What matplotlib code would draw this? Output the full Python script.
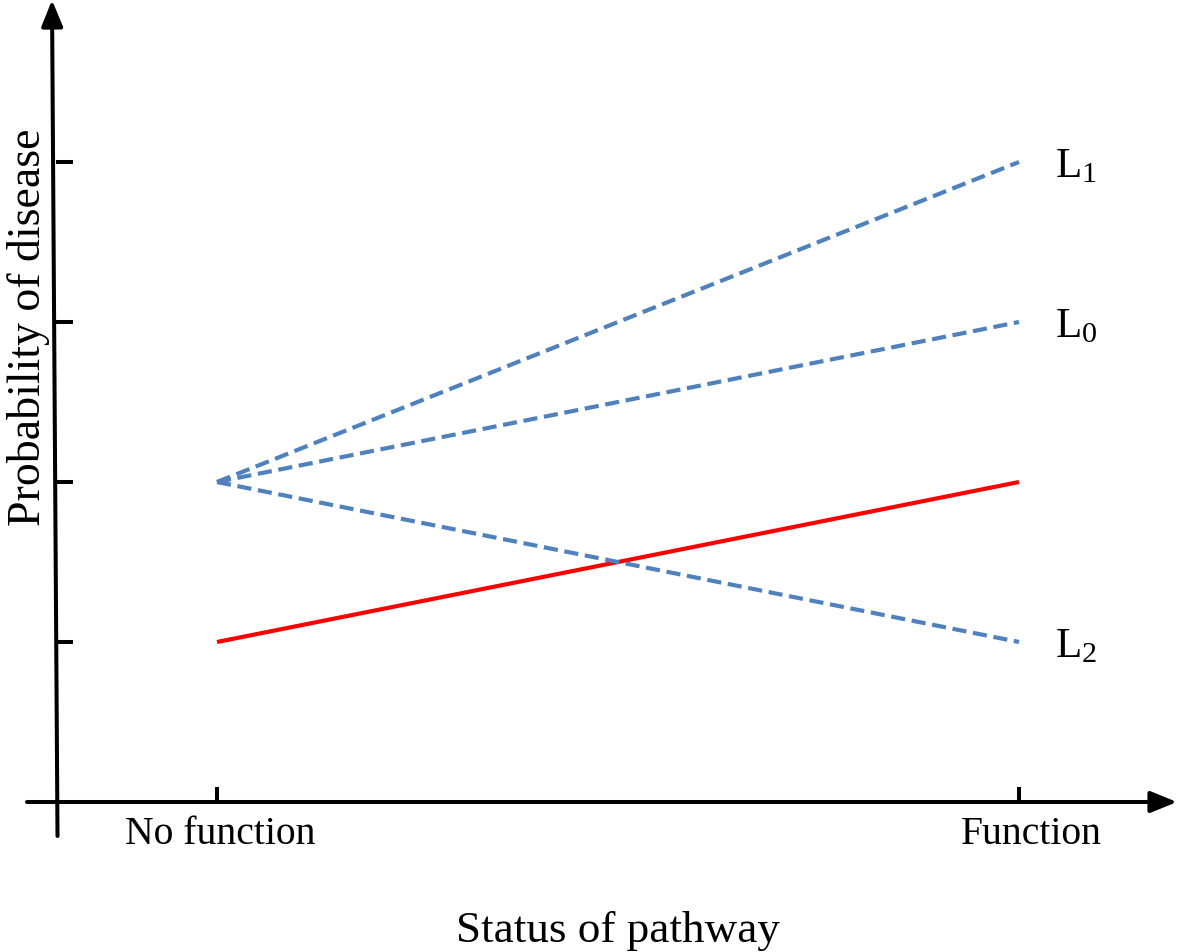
import matplotlib
matplotlib.use("Agg")
import matplotlib.pyplot as plt

# Data
x_status = [0, 1]
x_labels = ["No function", "Function"]
red_line = [1, 2]
L1 = [2, 4]
L0 = [2, 3]
L2 = [2, 1]
dashed_series = [("L$_1$", L1), ("L$_0$", L0), ("L$_2$", L2)]
y_ticks = [1, 2, 3, 4]

plt.rcParams['font.family'] = ['Liberation Serif', 'DejaVu Serif']
plt.rcParams['mathtext.fontset'] = 'custom'
plt.rcParams['mathtext.rm'] = 'Liberation Serif'
plt.rcParams['mathtext.it'] = 'Liberation Serif:italic'

W, H = 11.81, 9.52
fig = plt.figure(figsize=(W, H), dpi=100)
ax = fig.add_axes([0, 0, 1, 1])
ax.axis('off')
# pixel mapping: x 217->0, 1019->1 ; y 802->0, 160 px per unit
xs = 802.0
ax.set_xlim(-217 / xs, (1181 - 217) / xs)
ax.set_ylim(-(952 - 802) / 160.0, 802 / 160.0)

def px(p):
    return (p - 217) / xs

def py(p):
    return (802 - p) / 160.0

blue = '#4f81bd'
lw_axis = 2.9
arrow = '-|>,head_length=1.6,head_width=0.65'

# Axes
ax.annotate('', xy=(px(1177), 0), xytext=(px(27), 0),
            arrowprops=dict(arrowstyle=arrow, lw=lw_axis, color='black',
                            shrinkA=0, shrinkB=0))
ax.annotate('', xy=(px(52), py(0)), xytext=(px(57.5), py(836)),
            arrowprops=dict(arrowstyle=arrow, lw=lw_axis, color='black',
                            shrinkA=0, shrinkB=0))

# ticks
for t in y_ticks:
    ax.plot([px(56), px(73)], [t, t], color='black', lw=lw_axis, solid_capstyle='butt')
for xv in x_status:
    ax.plot([xv, xv], [0, py(787)], color='black', lw=lw_axis, solid_capstyle='butt')

# lines
ax.plot(x_status, red_line, color='#ff0000', lw=3.0, solid_capstyle='butt')
for lab, ser in dashed_series:
    ax.plot(x_status, ser, color=blue, lw=3.0, linestyle=(0, (3.4, 1.6)))
    ax.text(px(1055), ser[1] - 0.03, lab, fontsize=31, ha='left', va='center')

# tick labels
ax.text(px(220), py(835), x_labels[0], fontsize=28.5, ha='center', va='center')
ax.text(px(1031), py(835), x_labels[1], fontsize=28.5, ha='center', va='center')

ax.text(px(618), py(931), "Status of pathway", fontsize=32.5, ha='center', va='center')
ax.text(px(28), py(327), "Probability of disease", fontsize=33, ha='center', va='center', rotation=90)

fig.savefig("out.png", dpi=100)
